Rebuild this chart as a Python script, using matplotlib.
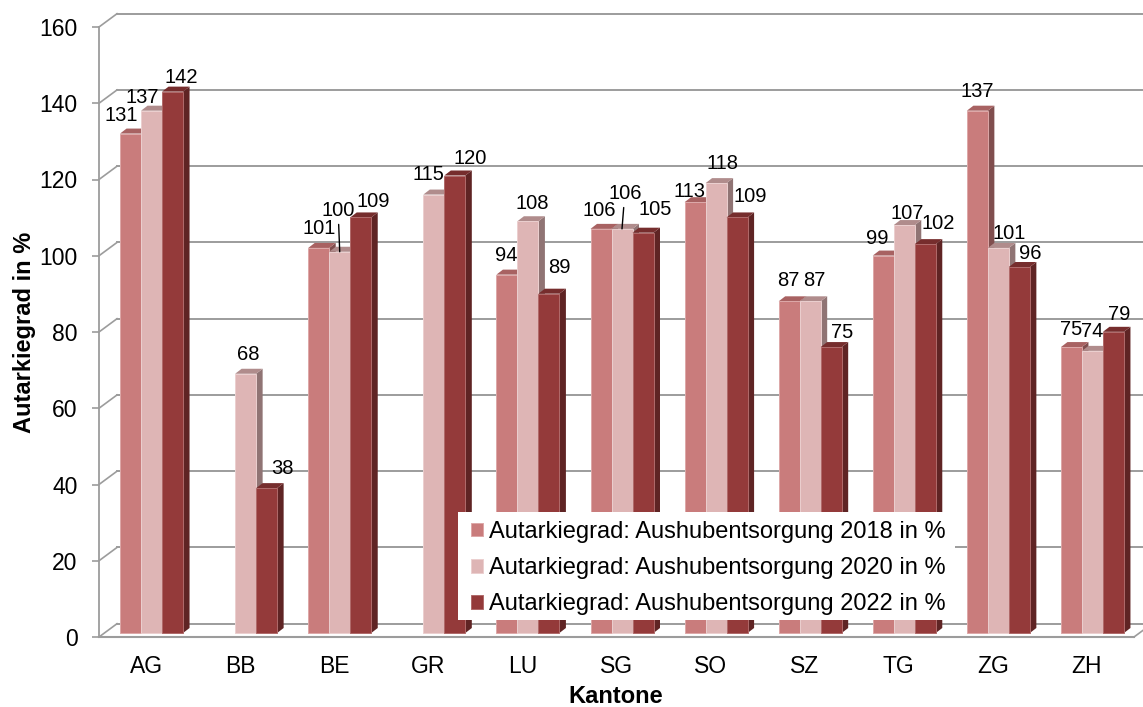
import matplotlib
matplotlib.use('Agg')
import matplotlib.pyplot as plt
from matplotlib.patches import Patch, Rectangle

plt.rcParams['font.family'] = ['Liberation Sans', 'DejaVu Sans']

kantone = ['AG', 'BB', 'BE', 'GR', 'LU', 'SG', 'SO', 'SZ', 'TG', 'ZG', 'ZH']
werte_2018 = [131, None, 101, None, 94, 106, 113, 87, 99, 137, 75]
werte_2020 = [137, 68, 100, 115, 108, 106, 118, 87, 107, 101, 74]
werte_2022 = [142, 38, 109, 120, 89, 105, 109, 75, 102, 96, 79]
serien = [werte_2018, werte_2020, werte_2022]
namen = ['Autarkiegrad: Aushubentsorgung 2018 in %',
         'Autarkiegrad: Aushubentsorgung 2020 in %',
         'Autarkiegrad: Aushubentsorgung 2022 in %']
y_ticks = [0, 20, 40, 60, 80, 100, 120, 140, 160]

# colours per series: front, top, side, edge
front = ['#C97C7C', '#DEB5B5', '#943A3A']
top = ['#A86262', '#B08C8C', '#762D2D']
side = ['#804E4E', '#907474', '#5F2424']
edge = ['#DDA8A8', '#EBCFCF', '#B06A6A']

# label shift from the top of each bar, in pixels
versatz = [
    [(-9.5, 18), None, (0, 19), None, (-1, 19), (-2, 18), (-6, 11), (-1, 21), (-6, 17), (0, 19), (0, 17.5)],
    [(-9, 13), (2.4, 19), (-1.6, 41), (-5.7, 20), (4.2, 18), (2.8, 35), (6.8, 20), (4, 21), (3, 12), (11, 14), (0, 19)],
    [(9, 14.6), (15.4, 20), (12.4, 15.6), (15.3, 16.6), (10.2, 26), (11.8, 23), (13, 20.6), (11, 14.5), (13, 20.4), (11, 13.3), (6, 17)],
]
# labels that have a leader line down to their bar (series, category)
mit_linie = [(1, 2), (1, 5)]

W, H = 1143, 707
fig = plt.figure(figsize=(W / 100, H / 100), dpi=100)
ax = fig.add_axes([99 / W, (H - 637) / H, 1035 / W, 610 / H])
ax.set_xlim(-0.5, 10.5)
ax.set_ylim(0, 160)

px_x = 11 / 1035      # one pixel in x data units
px_y = 160 / 610      # one pixel in y data units
wand_x = 18 * px_x
wand_y = 13.3 * px_y
balken = 21 * px_x
tiefe_x = 6.5 * px_x
tiefe_y = 5 * px_y
start_x = 5.5 * px_x
start_y = 4 * px_y

grau = '#9C9C9C'
for t in y_ticks:
    ax.plot([-0.5 + wand_x, 10.5 + wand_x], [t + wand_y, t + wand_y], color=grau, lw=1.4, clip_on=False, zorder=1)
    ax.plot([-0.5, -0.5 + wand_x], [t, t + wand_y], color=grau, lw=1.2, clip_on=False, zorder=1)
ax.plot([10.5, 10.5 + wand_x], [0, wand_y], color=grau, lw=1.2, clip_on=False, zorder=1)

for s, werte in enumerate(serien):
    for i, v in enumerate(werte):
        if v is None:
            continue
        mitte = i + start_x + (s - 1) * balken
        links = mitte - balken / 2
        rechts = mitte + balken / 2
        oben = start_y + v
        z = 3 + s
        ax.fill([rechts, rechts + tiefe_x, rechts + tiefe_x, rechts],
                [start_y, start_y + tiefe_y, oben + tiefe_y, oben], color=side[s], lw=0, zorder=z)
        ax.fill([links, rechts, rechts + tiefe_x, links + tiefe_x],
                [oben, oben, oben + tiefe_y, oben + tiefe_y], color=top[s], lw=0, zorder=z)
        ax.bar(mitte, v, bottom=start_y, width=balken, color=front[s], edgecolor=edge[s], lw=0.7, zorder=z)

for s, werte in enumerate(serien):
    for i, v in enumerate(werte):
        if v is None:
            continue
        mitte = i + start_x + (s - 1) * balken
        pfeil = None
        if (s, i) in mit_linie:
            pfeil = dict(arrowstyle='-', color='black', lw=1, shrinkA=1, shrinkB=0)
        ax.annotate(str(v), xy=(mitte, start_y + v), xytext=versatz[s][i], textcoords='offset pixels',
                    ha='center', va='center', fontsize=14.5, color='black', zorder=8, arrowprops=pfeil)

ax.spines['top'].set_visible(False)
ax.spines['right'].set_visible(False)
ax.spines['left'].set_color(grau)
ax.spines['bottom'].set_color(grau)
ax.spines['left'].set_linewidth(1.3)
ax.spines['bottom'].set_linewidth(1.5)
ax.patch.set_alpha(0)

ax.set_yticks(y_ticks)
ax.set_xticks(range(len(kantone)))
ax.set_xticklabels(kantone)
ax.tick_params(axis='y', length=5, width=1.2, color=grau, pad=10.5, labelsize=16.5)
ax.tick_params(axis='x', length=0, pad=13, labelsize=16.5)

ax.set_xlabel('Kantone', fontsize=17, fontweight='bold', va='center')
ax.xaxis.set_label_coords(0.4995, -0.098)
ax.set_ylabel('Autarkiegrad in %', fontsize=17, fontweight='bold', va='center')
ax.yaxis.set_label_coords(-0.072, 0.50)

# white box behind the legend, the legend itself has no frame
ax.add_patch(Rectangle((458 / W, 1 - 620 / H), 497 / W, 108 / H, transform=fig.transFigure,
                       facecolor='white', edgecolor='none', clip_on=False, zorder=9))
griffe = [Patch(facecolor=front[s], edgecolor=edge[s], lw=0.7, label=namen[s]) for s in range(3)]
leg = ax.legend(handles=griffe, loc='upper left', bbox_to_anchor=(471 / W, 1 - 521 / H), bbox_transform=fig.transFigure,
                borderaxespad=0, fontsize=17, frameon=False, handlelength=0.51, handleheight=0.51,
                handletextpad=0.27, labelspacing=0.6, borderpad=0)
leg.set_zorder(10)

fig.savefig('out.png', dpi=100, facecolor='white')
